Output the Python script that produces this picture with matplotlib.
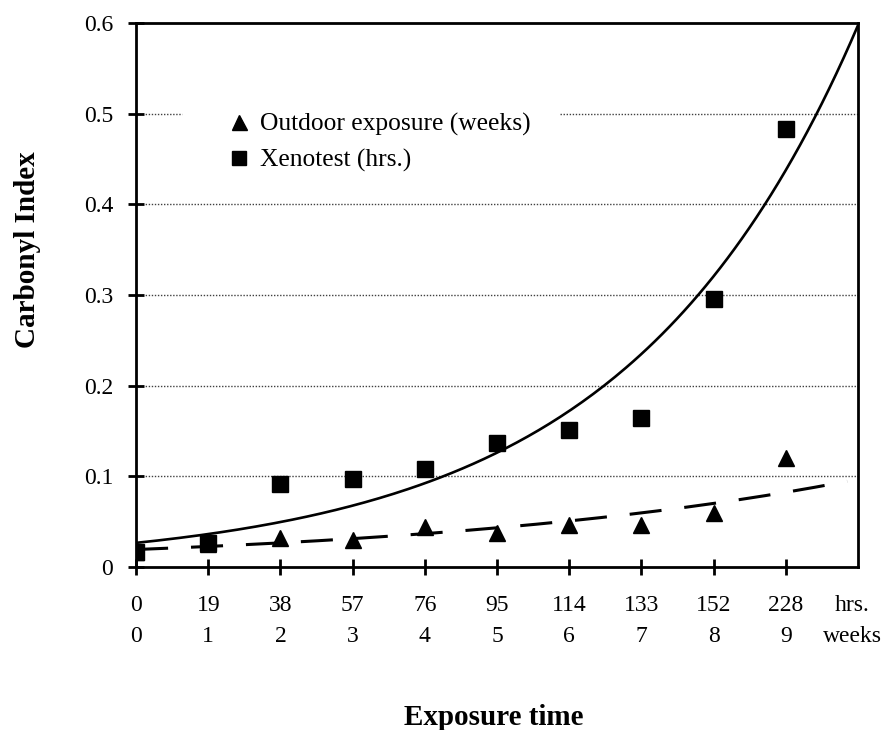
import numpy as np
import matplotlib
matplotlib.use("Agg")
import matplotlib.pyplot as plt
from matplotlib.ticker import FuncFormatter

plt.rcParams["font.family"] = ["Liberation Serif", "DejaVu Serif"]

# data
hours = ["0", "19", "38", "57", "76", "95", "114", "133", "152", "228"]
weeks = ["0", "1", "2", "3", "4", "5", "6", "7", "8", "9"]
outdoor = [0.017, 0.025, 0.032, 0.030, 0.044, 0.037, 0.046, 0.046, 0.060, 0.120]
xenotest = [0.017, 0.027, 0.092, 0.097, 0.108, 0.137, 0.151, 0.164, 0.296, 0.483]

pos = np.arange(len(hours))

# exponential trendlines (log-linear least squares, like a spreadsheet trendline)
bx, lnax = np.polyfit(pos, np.log(xenotest), 1)
bo, lnao = np.polyfit(pos, np.log(outdoor), 1)
xs_x = np.linspace(0, 10, 200)
xs_o = np.linspace(0, 9.85, 200)

fig = plt.figure(figsize=(8.95, 7.30), dpi=100)
ax = fig.add_axes([0.152, 0.2233, 0.8067, 0.7452])

grid_kw = dict(color="0.25", lw=1.0, ls=(0, (1, 1.2)), zorder=1)
for yv in [0.1, 0.2, 0.3, 0.4]:
    ax.axhline(yv, **grid_kw)
# the 0.5 gridline is broken where the legend sits
ax.axhline(0.5, xmin=0, xmax=0.064, **grid_kw)
ax.axhline(0.5, xmin=0.587, xmax=1, **grid_kw)

ax.plot(xs_x, np.exp(lnax) * np.exp(bx * xs_x), color="black", lw=1.9, zorder=3)
ax.plot(xs_o, np.exp(lnao) * np.exp(bo * xs_o), color="black", lw=2.2,
        ls=(0, (10.5, 7.5)), zorder=3)

ax.plot(pos, outdoor, ls="none", marker="^", ms=12, color="black",
        label="Outdoor exposure (weeks)", zorder=4)
ax.plot(pos, xenotest, ls="none", marker="s", ms=11, color="black",
        label="Xenotest (hrs.)", zorder=4)

ax.set_xlim(0, 10)
ax.set_ylim(0, 0.6)

ax.set_xticks(pos)
ax.set_xticklabels([f"{h}\n{w}" for h, w in zip(hours, weeks)], linespacing=1.65)
ax.set_yticks([0, 0.1, 0.2, 0.3, 0.4, 0.5, 0.6])
ax.yaxis.set_major_formatter(FuncFormatter(lambda v, p: "0" if v == 0 else f"{v:.1f}"))

ax.tick_params(axis="x", direction="inout", length=12, width=2, pad=14, labelsize=17)
ax.tick_params(axis="y", direction="inout", length=11, width=2, pad=11, labelsize=17)

ax.annotate("hrs.\nweeks", xy=(9.92, 0), xycoords=ax.get_xaxis_transform(),
            xytext=(0, -20), textcoords="offset points", ha="center", va="top",
            fontsize=17, linespacing=1.65)

for s in ax.spines.values():
    s.set_linewidth(2.0)

ax.set_ylabel("Carbonyl Index", fontsize=21, fontweight="bold")
ax.yaxis.set_label_coords(-0.151, 0.583)
ax.yaxis.label.set_va("center")
ax.set_xlabel("Exposure time", fontsize=21, fontweight="bold")
ax.xaxis.set_label_coords(0.495, -0.276)
ax.xaxis.label.set_va("center")

ax.legend(loc="upper left", bbox_to_anchor=(0.065, 0.914), borderaxespad=0,
          borderpad=1.69, handlelength=1.0, handletextpad=0.32, labelspacing=0.5,
          markerscale=0.9, fontsize=18.4, frameon=False)

fig.savefig("out.png", dpi=100)
